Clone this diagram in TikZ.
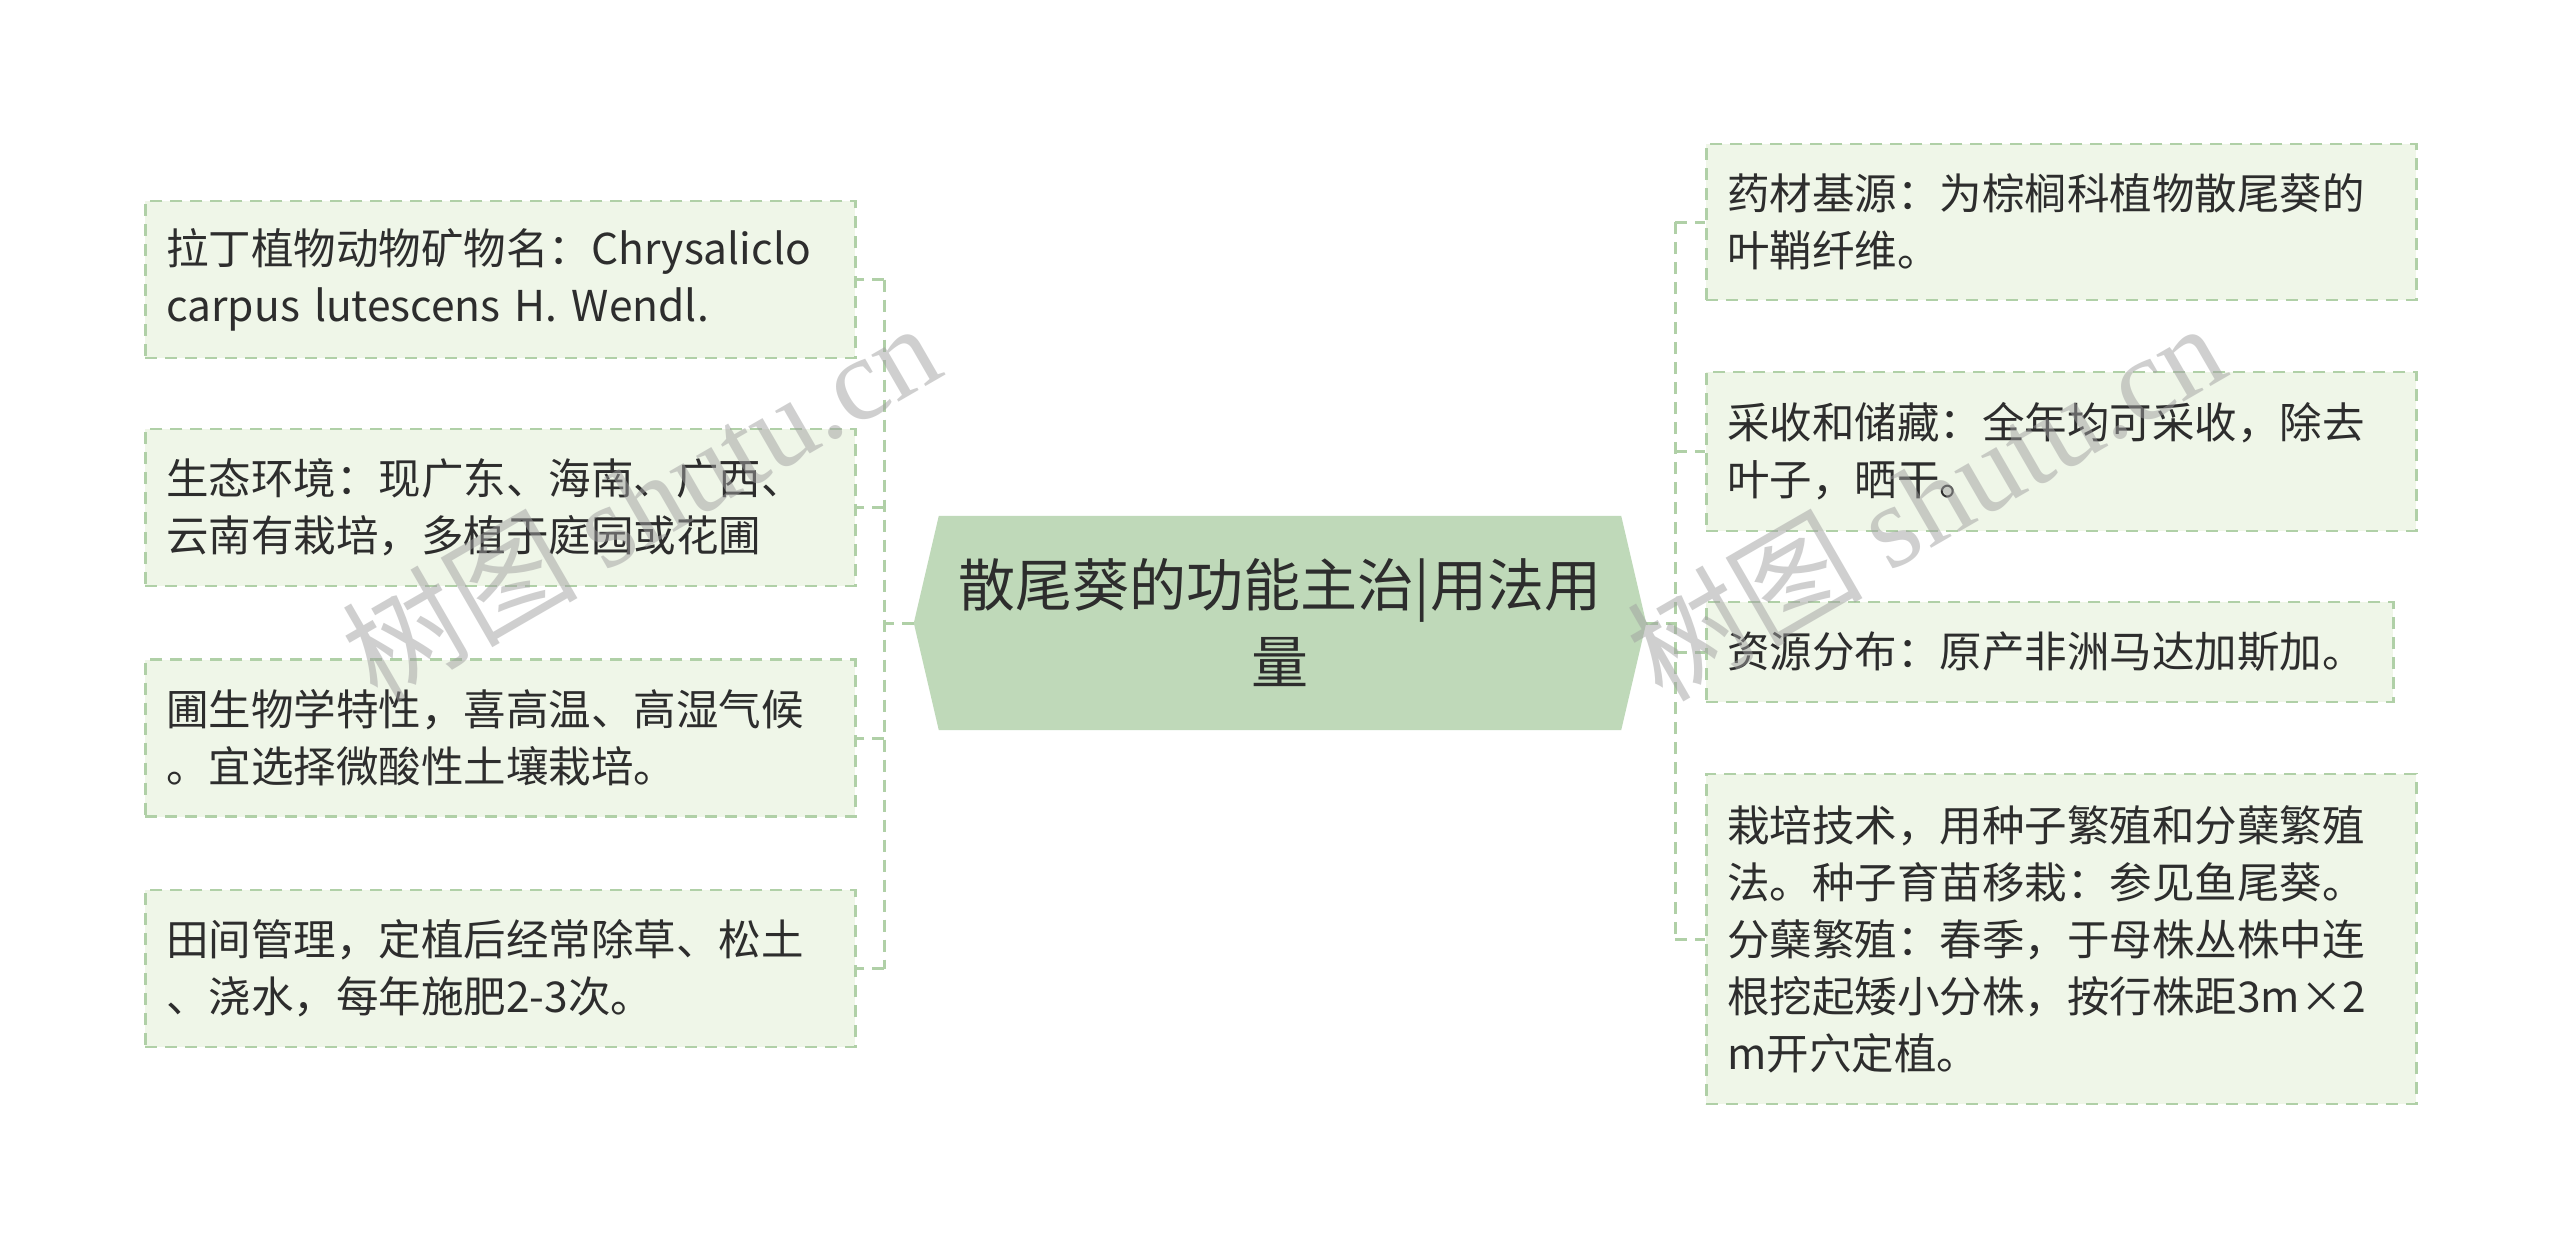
\documentclass[tikz,border=0pt]{standalone}
\usepackage{fontspec}
\setmainfont{Noto Sans CJK SC}
\newfontfamily\wmserif{Liberation Serif}
\usetikzlibrary{backgrounds}
\definecolor{boxfill}{RGB}{239,246,232}
\definecolor{boxline}{RGB}{176,208,167}
\definecolor{cfill}{RGB}{191,217,185}
\definecolor{txt}{RGB}{45,45,45}
\definecolor{wmcol}{RGB}{160,160,160}
\begin{document}
\begin{tikzpicture}[x=1pt,y=-1pt,
  leaf/.style={draw=boxline, fill=boxfill, line width=2.5pt, dash pattern=on 12pt off 8pt,
    anchor=west, inner xsep=21pt, inner ysep=0pt, text width=#1, align=left, text=txt,
    font=\fontsize{42.5}{57}\selectfont},
  leaf/.default=668pt,
  conn/.style={draw=boxline, line width=3pt, dash pattern=on 12pt off 8pt},
  rootnode/.style={minimum width=732pt, minimum height=214pt, inner sep=0pt, align=center,
    text=txt, font=\fontsize{57}{77}\selectfont},
  wmark/.style={rotate=30, text=wmcol, opacity=0.5, font=\fontsize{118}{118}\selectfont}]
\begin{scope}[on background layer]
\fill[white] (0,0) rectangle (2560,1247);
\end{scope}
\useasboundingbox (0,0) rectangle (2560,1247);

% root
\node[rootnode] (root) at (1280,623) {散尾葵的功能主治|用法用\\量};
\begin{scope}[on background layer]
\fill[cfill] (root.west) -- ([xshift=25pt]root.north west) -- ([xshift=-25pt]root.north east)
  -- (root.east) -- ([xshift=-25pt]root.south east) -- ([xshift=25pt]root.south west) -- cycle;
\end{scope}

% left leaves
\node[leaf, minimum height=157pt] (l1) at (144,279.5) {拉丁植物动物矿物名：Chrysaliclo\\carpus lutescens H. Wendl.};
\node[leaf, minimum height=157pt] (l2) at (144,507.5) {生态环境：现广东、海南、广西、\\云南有栽培，多植于庭园或花圃};
\node[leaf, minimum height=157pt] (l3) at (144,738) {圃生物学特性，喜高温、高湿气候\\。宜选择微酸性土壤栽培。};
\node[leaf, minimum height=157pt] (l4) at (144,968.5) {田间管理，定植后经常除草、松土\\、浇水，每年施肥2-3次。};

% right leaves
\node[leaf, minimum height=156pt] (r1) at (1705,222) {药材基源：为棕榈科植物散尾葵的\\叶鞘纤维。};
\node[leaf, minimum height=159pt] (r2) at (1705,451.5) {采收和储藏：全年均可采收，除去\\叶子，晒干。};
\node[leaf=645pt, minimum height=100pt] (r3) at (1705,652) {资源分布：原产非洲马达加斯加。};
\node[leaf, minimum height=330pt] (r4) at (1705,939) {栽培技术，用种子繁殖和分蘖繁殖\\法。种子育苗移栽：参见鱼尾葵。\\分蘖繁殖：春季，于母株丛株中连\\根挖起矮小分株，按行株距3m×2\\m开穴定植。};

% connectors
\coordinate (lj) at (884,623);
\coordinate (rj) at (1675,623);
\draw[conn] (root.west) -- (lj);
\draw[conn] (lj |- l1.east) -- (lj |- l4.east);
\foreach \n in {l1,l2,l3,l4} \draw[conn] (lj |- \n.east) -- (\n.east);
\draw[conn] (root.east) -- (rj);
\draw[conn] (rj |- r1.west) -- (rj |- r4.west);
\foreach \n in {r1,r2,r3,r4} \draw[conn] (rj |- \n.west) -- (\n.west);

% watermarks
\node[wmark] (wm1) at (640,500) {树图 {\wmserif shutu.cn}};
\node[wmark] (wm2) at (1925,500) {树图 {\wmserif shutu.cn}};
\end{tikzpicture}
\end{document}
